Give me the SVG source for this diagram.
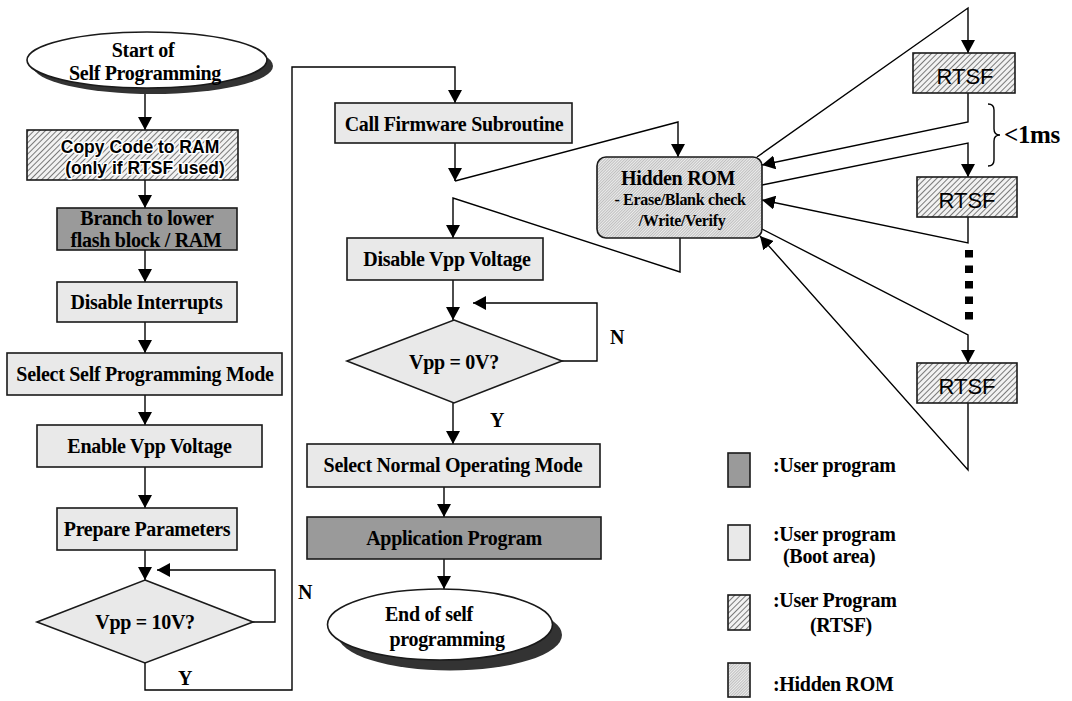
<svg xmlns="http://www.w3.org/2000/svg" width="1072" height="701" viewBox="0 0 1072 701">
<style>
.ln{fill:none;stroke:#000;stroke-width:1.4}
.arr{marker-end:url(#ah)}
.box{stroke:#1a1a1a;stroke-width:1.6}
.light{fill:#e9e9e9}
.dark{fill:#9a9a9a}
.t{font-family:"Liberation Serif","Times New Roman",serif;font-weight:bold;font-size:20px;letter-spacing:-0.3px;text-anchor:middle;fill:#000}
.sm{font-size:16px}
.big{font-size:25px}
.s{font-family:"Liberation Sans",Arial,sans-serif;font-size:19px;text-anchor:middle;fill:#000}
.cp{font-size:17.5px;font-weight:bold}
.halo{stroke:#fff;stroke-width:3;paint-order:stroke;stroke-linejoin:round}
</style>
<defs>
<marker id="ah" markerUnits="userSpaceOnUse" viewBox="0 0 13 14" refX="13" refY="7" markerWidth="13" markerHeight="14" orient="auto">
<path d="M0,0 L13,7 L0,14 z" fill="#000"/>
</marker>
<pattern id="hatch" patternUnits="userSpaceOnUse" width="4" height="4" patternTransform="rotate(45)">
<rect width="4" height="4" fill="#f2f2f2"/>
<line x1="0.5" y1="0" x2="0.5" y2="4" stroke="#7a7a7a" stroke-width="1"/>
</pattern>
<pattern id="fine" patternUnits="userSpaceOnUse" width="2" height="2" patternTransform="rotate(45)">
<rect width="2" height="2" fill="#ececec"/>
<line x1="0.5" y1="0" x2="0.5" y2="2" stroke="#b4b4b4" stroke-width="0.8"/>
</pattern>
</defs>
<rect width="1072" height="701" fill="#fff"/>

<g id="connectors">
<path class="ln arr" d="M145,93 L145,130"/>
<path class="ln arr" d="M145,180 L145,208"/>
<path class="ln arr" d="M145,250 L145,282"/>
<path class="ln arr" d="M145,322 L145,353"/>
<path class="ln arr" d="M145,395 L145,425"/>
<path class="ln arr" d="M145,467 L145,508"/>
<path class="ln arr" d="M145,550 L145,580"/>
<path class="ln arr" d="M253,622 L275,622 L275,570 L157,570"/>
<path class="ln arr" d="M145,663 L145,690 L292,690 L292,67 L455,67 L455,103"/>
<path class="ln arr" d="M455,143 L455,181"/>
<path class="ln arr" d="M455,181 L678,122 L678,157"/>
<path class="ln arr" d="M680,238 L680,272 L453,198 L453,238"/>
<path class="ln arr" d="M453,280 L453,320"/>
<path class="ln arr" d="M562,361 L597,361 L597,303 L473,303"/>
<path class="ln arr" d="M453,403 L453,444"/>
<path class="ln arr" d="M444,487 L444,517"/>
<path class="ln arr" d="M444,559 L444,589"/>
<path class="ln arr" d="M757,157 L968,8 L968,53"/>
<path class="ln arr" d="M968,93 L968,122 L762,165"/>
<path class="ln arr" d="M762,185 L968,143 L968,177"/>
<path class="ln arr" d="M968,217 L968,243 L762,200"/>
<path class="ln arr" d="M762,229 L968,335 L968,363"/>
<path class="ln arr" d="M968,403 L968,470 L760,236"/>
<path d="M969,250 L969,320" fill="none" stroke="#000" stroke-width="8" stroke-dasharray="7.5 8"/>
<path class="ln" d="M988,104 Q994,104 994,110 L994,129 Q994,135 1000,135 Q994,135 994,141 L994,160 Q994,166 988,166"/>
<text class="t" x="305" y="599">N</text>
<text class="t" x="185" y="685">Y</text>
<text class="t" x="617" y="344">N</text>
<text class="t" x="497" y="427">Y</text>
<text class="t big" x="1032" y="143">&lt;1ms</text>
</g>

<g id="start">
<ellipse cx="153" cy="66" rx="120" ry="28" fill="#333"/>
<ellipse cx="147" cy="60" rx="120" ry="28" fill="#fff" stroke="#1a1a1a" stroke-width="1.6"/>
<text class="t" x="143" y="57">Start of</text>
<text class="t" x="145" y="80">Self Programming</text>
</g>

<g id="copy">
<rect class="box" x="27" y="130" width="211" height="50" fill="url(#hatch)"/>
<text class="s cp halo" x="140" y="153">Copy Code to RAM</text>
<text class="s cp halo" x="145" y="174">(only if RTSF used)</text>
</g>

<g id="branch">
<rect class="box dark" x="57" y="208" width="180" height="42"/>
<text class="t" x="147" y="225">Branch to lower</text>
<text class="t" x="146" y="247">flash block / RAM</text>
</g>

<g id="disint">
<rect class="box light" x="57" y="282" width="180" height="40"/>
<text class="t" x="146.5" y="309">Disable Interrupts</text>
</g>

<g id="selself">
<rect class="box light" x="7" y="353" width="275" height="42"/>
<text class="t" x="145" y="381">Select Self Programming Mode</text>
</g>

<g id="enable">
<rect class="box light" x="37" y="425" width="225" height="42"/>
<text class="t" x="149.5" y="453">Enable Vpp Voltage</text>
</g>

<g id="prepare">
<rect class="box light" x="57" y="508" width="180" height="42"/>
<text class="t" x="147" y="536">Prepare Parameters</text>
</g>

<g id="dec1">
<polygon class="box light" points="145,580 253,622 145,663 37,622"/>
<text class="t" x="145" y="629">Vpp = 10V?</text>
</g>

<g id="callfw">
<rect class="box light" x="335" y="103" width="237" height="40"/>
<text class="t" x="454" y="131">Call Firmware Subroutine</text>
</g>

<g id="hidden">
<rect class="box" x="597" y="157" width="165" height="81" rx="9" fill="url(#fine)"/>
<text class="t" x="678" y="185">Hidden ROM</text>
<text class="t sm" x="680" y="205">- Erase/Blank check</text>
<text class="t sm" x="682" y="226">/Write/Verify</text>
</g>

<g id="disvpp">
<rect class="box light" x="347" y="238" width="196" height="42"/>
<text class="t" x="447" y="266">Disable Vpp Voltage</text>
</g>

<g id="dec2">
<polygon class="box light" points="454,320 562,361 454,403 347,361"/>
<text class="t" x="454" y="369">Vpp = 0V?</text>
</g>

<g id="selnorm">
<rect class="box light" x="307" y="444" width="293" height="43"/>
<text class="t" x="453" y="472">Select Normal Operating Mode</text>
</g>

<g id="app">
<rect class="box dark" x="307" y="517" width="294" height="42"/>
<text class="t" x="454" y="545">Application Program</text>
</g>

<g id="end">
<ellipse cx="450" cy="635" rx="112" ry="35.5" fill="#333"/>
<ellipse cx="440" cy="624.5" rx="112.5" ry="35.5" fill="#fff" stroke="#1a1a1a" stroke-width="1.6"/>
<text class="t" x="429" y="621">End of self</text>
<text class="t" x="447" y="646">programming</text>
</g>

<g id="rtsf1">
<rect class="box" x="913" y="53" width="102" height="40" fill="url(#hatch)"/>
<text class="s" x="965" y="84" style="font-size:22px">RTSF</text>
</g>
<g id="rtsf2">
<rect class="box" x="917" y="177" width="100" height="40" fill="url(#hatch)"/>
<text class="s" x="967" y="208" style="font-size:22px">RTSF</text>
</g>
<g id="rtsf3">
<rect class="box" x="917" y="363" width="100" height="40" fill="url(#hatch)"/>
<text class="s" x="967" y="394" style="font-size:22px">RTSF</text>
</g>

<g id="legend">
<rect class="box dark" x="728" y="453" width="22" height="34"/>
<text class="t" x="773" y="472" style="text-anchor:start">:User program</text>
<rect class="box light" x="728" y="525" width="22" height="35"/>
<text class="t" x="773" y="541" style="text-anchor:start">:User program</text>
<text class="t" x="783" y="563" style="text-anchor:start">(Boot area)</text>
<rect class="box" x="728" y="595" width="22" height="35" fill="url(#hatch)"/>
<text class="t" x="773" y="607" style="text-anchor:start">:User Program</text>
<text class="t" x="810" y="632" style="text-anchor:start">(RTSF)</text>
<rect class="box" x="728" y="663" width="22" height="34" fill="url(#fine)"/>
<text class="t" x="773" y="691" style="text-anchor:start">:Hidden ROM</text>
</g>
</svg>
